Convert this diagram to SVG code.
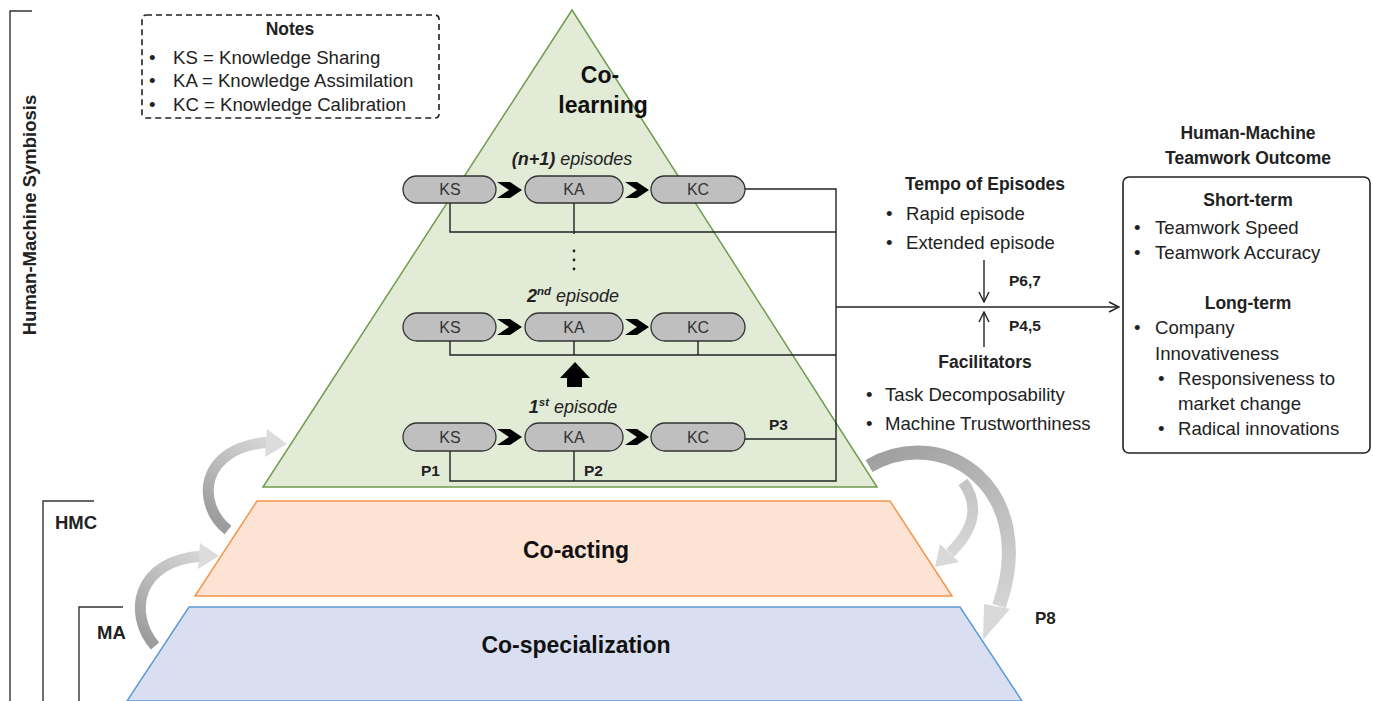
<svg xmlns="http://www.w3.org/2000/svg" width="1373" height="701" viewBox="0 0 1373 701">
<defs>
<style>
text{font-family:"Liberation Sans",Arial,sans-serif;fill:#222;}
.b{font-weight:bold;}
.t{font-size:18.6px;}
.h{font-size:17.5px;font-weight:bold;}
.big{font-size:23px;font-weight:bold;fill:#111;}
.pl{font-size:16px;text-anchor:middle;fill:#333;}
.pill{fill:#bfbfbf;stroke:#333;stroke-width:1.3;}
.ln{fill:none;stroke:#222;stroke-width:1.4;}
.br{fill:none;stroke:#333;stroke-width:1.4;}
.chev{fill:#000;}
.ep{font-size:18px;font-style:italic;text-anchor:middle;}
</style>
<marker id="open" viewBox="0 0 12 12" refX="11" refY="6" markerWidth="12" markerHeight="12" markerUnits="userSpaceOnUse" orient="auto">
<path d="M1,1 L11,6 L1,11" fill="none" stroke="#222" stroke-width="1.4"/>
</marker>
<linearGradient id="gL1" gradientUnits="userSpaceOnUse" x1="230" y1="530" x2="285" y2="440"><stop offset="0" stop-color="#9c9c9c"/><stop offset="1" stop-color="#dcdcdc"/></linearGradient>
<linearGradient id="gL2" gradientUnits="userSpaceOnUse" x1="155" y1="645" x2="218" y2="553"><stop offset="0" stop-color="#9c9c9c"/><stop offset="1" stop-color="#dcdcdc"/></linearGradient>
<linearGradient id="gR" gradientUnits="userSpaceOnUse" x1="870" y1="462" x2="990" y2="640"><stop offset="0" stop-color="#a0a0a0"/><stop offset="1" stop-color="#dadada"/></linearGradient>
<linearGradient id="gR2" gradientUnits="userSpaceOnUse" x1="960" y1="480" x2="937" y2="566"><stop offset="0" stop-color="#c4c4c4"/><stop offset="1" stop-color="#dcdcdc"/></linearGradient>
</defs>
<rect width="1373" height="701" fill="#fff"/>

<g id="bracket-hms">
<path class="br" d="M32,11 H10 V701"/>
<text class="b" font-size="18.5" transform="translate(36,215) rotate(-90)" text-anchor="middle">Human-Machine Symbiosis</text>
</g>
<g id="bracket-hmc">
<path class="br" d="M94,501 H43 V701"/>
<text class="b" font-size="18.5" x="55" y="529">HMC</text>
</g>
<g id="bracket-ma">
<path class="br" d="M123,607 H79 V701"/>
<text class="b" font-size="18.5" x="97" y="639">MA</text>
</g>

<g id="notes">
<rect x="142" y="15" width="297" height="103" rx="4" fill="none" stroke="#222" stroke-width="1.6" stroke-dasharray="6,4"/>
<text class="h" x="290" y="35" text-anchor="middle">Notes</text>
<text class="t" x="149" y="64">•</text><text class="t" x="173" y="64">KS = Knowledge Sharing</text>
<text class="t" x="149" y="87">•</text><text class="t" x="173" y="87">KA = Knowledge Assimilation</text>
<text class="t" x="149" y="111">•</text><text class="t" x="173" y="111">KC = Knowledge Calibration</text>
</g>

<g id="co-specialization">
<polygon points="189,607 960,607 1022,701 127,701" fill="#d9dff0" stroke="#5b9bd5" stroke-width="1.5"/>
<text class="big" x="576" y="653" text-anchor="middle">Co-specialization</text>
</g>
<g id="co-acting">
<polygon points="257,501 890,501 952,596 195,596" fill="#fde3d4" stroke="#f4954a" stroke-width="1.5"/>
<text class="big" x="576" y="558" text-anchor="middle">Co-acting</text>
</g>
<g id="co-learning">
<polygon points="572,10 877,487 263,487" fill="#e2ebd6" stroke="#6f9c4f" stroke-width="1.5"/>
<text class="big" font-size="25" x="600" y="83" text-anchor="middle">Co-</text>
<text class="big" font-size="25" x="603" y="113" text-anchor="middle">learning</text>
</g>

<g id="gray-arrows">
<path d="M228,530 C196,505 198,447 270,442" fill="none" stroke="url(#gL1)" stroke-width="11"/>
<polygon points="267,429 287,444 265,457" fill="#dcdcdc"/>
<path d="M155,646 C128,615 135,560 203,556" fill="none" stroke="url(#gL2)" stroke-width="11"/>
<polygon points="200,543 219,556 198,569" fill="#dcdcdc"/>
<path d="M869,466 C945,422 1040,490 999,606" fill="none" stroke="url(#gR)" stroke-width="14"/>
<polygon points="984,604 1010,609 983,640" fill="#d9d9d9"/>
<path d="M963,482 C980,505 974,530 950,553" fill="none" stroke="url(#gR2)" stroke-width="11"/>
<polygon points="940,544 959,562 935,567" fill="#d9d9d9"/>
<text class="b" font-size="17" x="1035" y="624">P8</text>
</g>

<g id="episode-n1">
<text class="ep" x="572" y="165"><tspan font-weight="bold">(n+1)</tspan> episodes</text>
<rect class="pill" x="403" y="176" width="93" height="27" rx="13.5"/><text class="pl" x="450" y="195">KS</text>
<polygon class="chev" points="497,182 510,182 522,190 510,198 497,198 509,190"/>
<rect class="pill" x="525" y="176" width="98" height="27" rx="13.5"/><text class="pl" x="574" y="195">KA</text>
<polygon class="chev" points="625,182 637,182 649,190 637,198 625,198 637,190"/>
<rect class="pill" x="651" y="176" width="94" height="27" rx="13.5"/><text class="pl" x="698" y="195">KC</text>
</g>
<g id="ellipsis">
<circle cx="574" cy="251" r="1.4" fill="#222"/><circle cx="574" cy="260" r="1.4" fill="#222"/><circle cx="574" cy="269" r="1.4" fill="#222"/>
</g>
<g id="episode-2">
<text class="ep" x="573" y="302"><tspan font-weight="bold">2</tspan><tspan font-weight="bold" font-size="11.5" dy="-7">nd</tspan><tspan dy="7"> episode</tspan></text>
<rect class="pill" x="403" y="313" width="93" height="28" rx="14"/><text class="pl" x="450" y="333">KS</text>
<polygon class="chev" points="497,319 510,319 522,327 510,335 497,335 509,327"/>
<rect class="pill" x="525" y="313" width="98" height="28" rx="14"/><text class="pl" x="574" y="333">KA</text>
<polygon class="chev" points="625,319 637,319 649,327 637,335 625,335 637,327"/>
<rect class="pill" x="651" y="313" width="94" height="28" rx="14"/><text class="pl" x="698" y="333">KC</text>
</g>
<g id="up-arrow">
<polygon points="560,378 575,362 590,378 582,378 582,387 567,387 567,378" fill="#000"/>
</g>
<g id="episode-1">
<text class="ep" x="573" y="413"><tspan font-weight="bold">1</tspan><tspan font-weight="bold" font-size="11.5" dy="-7">st</tspan><tspan dy="7"> episode</tspan></text>
<rect class="pill" x="403" y="423" width="93" height="28" rx="14"/><text class="pl" x="450" y="443">KS</text>
<polygon class="chev" points="497,429 510,429 522,437 510,445 497,445 509,437"/>
<rect class="pill" x="525" y="423" width="98" height="28" rx="14"/><text class="pl" x="574" y="443">KA</text>
<polygon class="chev" points="625,429 637,429 649,437 637,445 625,445 637,437"/>
<rect class="pill" x="651" y="423" width="94" height="28" rx="14"/><text class="pl" x="698" y="443">KC</text>
</g>

<g id="connectors">
<path class="ln" d="M745,189 H836 V481 H450 V451"/>
<path class="ln" d="M450,203 V232 H836"/>
<path class="ln" d="M574,203 V234"/>
<path class="ln" d="M450,341 V355 H836"/>
<path class="ln" d="M574,341 V355"/>
<path class="ln" d="M698,341 V355"/>
<path class="ln" d="M745,439 H836"/>
<path class="ln" d="M574,451 V481"/>
<path class="ln" d="M836,307 H1119" marker-end="url(#open)"/>
<path class="ln" d="M984,260 V302" marker-end="url(#open)"/>
<path class="ln" d="M984,347 V312" marker-end="url(#open)"/>
<text class="b" font-size="15.5" x="769" y="430">P3</text>
<text class="b" font-size="15.5" x="421" y="476">P1</text>
<text class="b" font-size="15.5" x="584" y="476">P2</text>
<text class="b" font-size="15.5" x="1009" y="286">P6,7</text>
<text class="b" font-size="15.5" x="1009" y="331">P4,5</text>
</g>

<g id="tempo">
<text class="h" x="985" y="190" text-anchor="middle">Tempo of Episodes</text>
<text class="t" x="886" y="220">•</text><text class="t" x="906" y="220">Rapid episode</text>
<text class="t" x="886" y="249">•</text><text class="t" x="906" y="249">Extended episode</text>
</g>
<g id="facilitators">
<text class="h" x="985" y="368" text-anchor="middle">Facilitators</text>
<text class="t" x="866" y="401">•</text><text class="t" x="885" y="401">Task Decomposability</text>
<text class="t" x="866" y="430">•</text><text class="t" x="885" y="430">Machine Trustworthiness</text>
</g>

<g id="outcome">
<text class="h" x="1248" y="139" text-anchor="middle">Human-Machine</text>
<text class="h" x="1248" y="164" text-anchor="middle">Teamwork Outcome</text>
<rect x="1123" y="177" width="247" height="276" rx="6" fill="#fff" stroke="#222" stroke-width="1.6"/>
<text class="h" x="1248" y="206" text-anchor="middle">Short-term</text>
<text class="t" x="1134" y="234">•</text><text class="t" x="1155" y="234">Teamwork Speed</text>
<text class="t" x="1134" y="259">•</text><text class="t" x="1155" y="259">Teamwork Accuracy</text>
<text class="h" x="1248" y="309" text-anchor="middle">Long-term</text>
<text class="t" x="1134" y="334">•</text><text class="t" x="1155" y="334">Company</text>
<text class="t" x="1155" y="360">Innovativeness</text>
<text class="t" x="1158" y="385">•</text><text class="t" x="1178" y="385">Responsiveness to</text>
<text class="t" x="1178" y="410">market change</text>
<text class="t" x="1158" y="435">•</text><text class="t" x="1178" y="435">Radical innovations</text>
</g>
</svg>
